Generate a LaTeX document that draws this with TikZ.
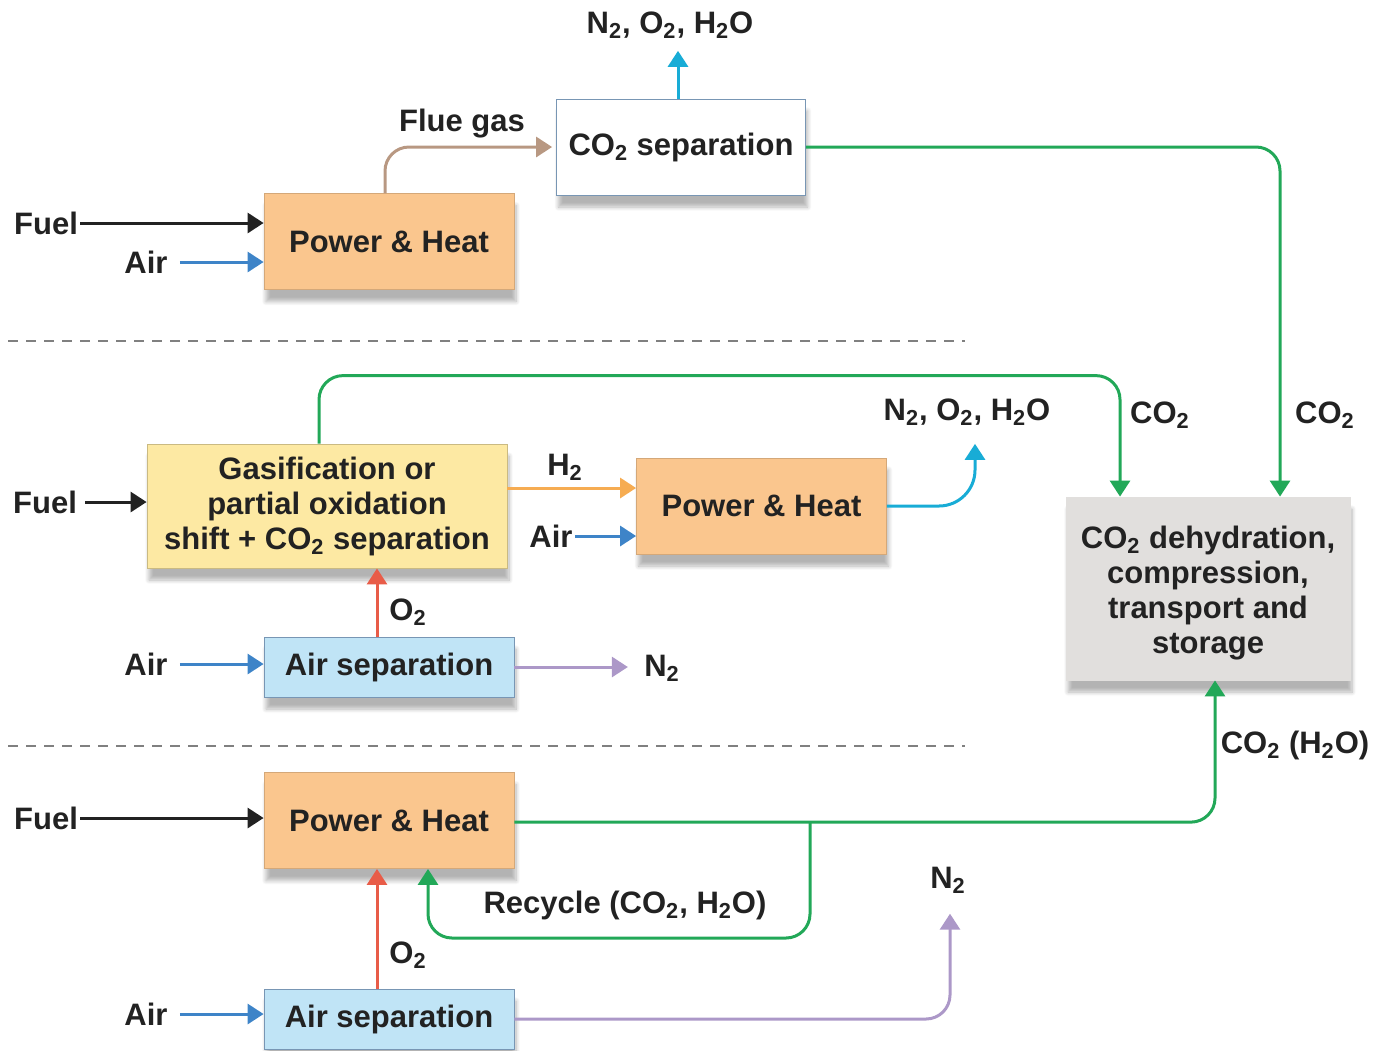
\documentclass[tikz,border=0pt]{standalone}
\usepackage{fontspec}
\setmainfont{Liberation Sans}
\usepackage{xcolor}
\usepackage{tikz}
\usetikzlibrary{positioning,arrows.meta,shadows.blur}
\definecolor{heatfill}{RGB}{250,198,142}
\definecolor{gasfill}{RGB}{253,233,163}
\definecolor{sepfill}{RGB}{192,228,246}
\definecolor{storefill}{RGB}{225,223,221}
\definecolor{sepdraw}{RGB}{120,150,180}
\definecolor{flowgreen}{RGB}{34,168,88}
\definecolor{flowcyan}{RGB}{24,172,214}
\definecolor{flowblue}{RGB}{62,132,200}
\definecolor{flowtan}{RGB}{184,152,130}
\definecolor{flowred}{RGB}{232,92,72}
\definecolor{flowpurple}{RGB}{172,152,200}
\definecolor{flowamber}{RGB}{246,172,82}
\definecolor{textgray}{RGB}{34,34,34}
\newcommand{\ctwo}{\textsubscript{2}}
\tikzset{
  unit/.style     = {shape=rectangle, align=center, inner sep=2pt,
                     font=\bfseries\fontsize{15.5}{17.5}\selectfont, text=textgray,
                     blur shadow={shadow xshift=1pt, shadow yshift=-6pt,
                                  shadow blur steps=8, shadow opacity=30}},
  heat/.style     = {unit, fill=heatfill, draw=heatfill!85!black,
                     minimum width=125pt, minimum height=48pt},
  gasif/.style    = {unit, fill=gasfill, draw=gasfill!80!black,
                     minimum width=180pt, minimum height=62pt},
  airsep/.style   = {unit, fill=sepfill, draw=sepdraw,
                     minimum width=125pt, minimum height=30pt},
  capture/.style  = {unit, fill=white, draw=sepdraw,
                     minimum width=124.5pt, minimum height=48pt},
  store/.style    = {unit, fill=storefill, draw=storefill,
                     minimum width=142pt, minimum height=91.5pt},
  tag/.style      = {font=\bfseries\fontsize{15.5}{17}\selectfont,
                     text=textgray, inner sep=1pt},
  flow/.style     = {line width=1.5pt, -{Triangle[length=8pt,width=10pt]}},
  fuel/.style     = {flow, draw=textgray},
  air/.style      = {flow, draw=flowblue, shorten <=5pt},
  co2/.style      = {flow, draw=flowgreen, rounded corners=12pt},
  exhaust/.style  = {flow, draw=flowcyan, rounded corners=18pt},
  nitrogen/.style = {flow, draw=flowpurple, rounded corners=12pt},
  oxygen/.style   = {flow, draw=flowred},
  divider/.style  = {draw=gray, line width=0.8pt, dash pattern=on 5pt off 4pt}
}
\begin{document}
\begin{tikzpicture}[x=0.5pt, y=-0.5pt]
  \useasboundingbox (0,0) rectangle (1384,1050);

  % post-combustion
  \node [capture] (sep)   at (681,147)   {CO\ctwo{} separation};
  \node [heat]    (heatA) at (389,241.5) {Power \& Heat};
  \node [tag]     (fuelA) at (46,223)    {Fuel};
  \node [tag]     (airA)  at (146,262)   {Air};
  \node [tag]     (exhA)  at (670,25)    {N\ctwo, O\ctwo, H\ctwo O};
  \node [tag]     (flue)  at (462,124)   {Flue gas};
  \draw [fuel] (fuelA.east) -- (fuelA -| heatA.west);
  \draw [air]  (airA.east)  -- (airA.east -| heatA.west);
  \draw [flow, draw=flowtan, rounded corners=12pt, shorten >=2pt]
        ([xshift=-2pt]heatA.north) |- (sep.west);
  \draw [flow, draw=flowcyan, shorten >=5pt]
        ([xshift=-1.5pt]sep.north) -- ([xshift=-1.5pt]sep.north |- exhA.south);

  \draw [divider] (8,341) -- (965,341);

  % pre-combustion
  \node [gasif]  (gasif) at (327,506)
        {Gasification or\\partial oxidation\\shift + CO\ctwo{} separation};
  \node [heat]   (heatB) at (761.5,506) {Power \& Heat};
  \node [airsep] (asepB) at (389,667)   {Air separation};
  \node [tag]    (fuelB) at (45,502)    {Fuel};
  \node [tag]    (h2)    at (565,467)   {H\ctwo};
  \node [tag]    (airM)  at (551,536)   {Air};
  \node [tag]    (airB)  at (146,664)   {Air};
  \node [tag]    (o2B)   at (408,612)   {O\ctwo};
  \node [tag]    (n2B)   at (662,668)   {N\ctwo};
  \node [tag]    (exhB)  at (967,412)   {N\ctwo, O\ctwo, H\ctwo O};
  \draw [fuel, shorten <=3pt] (fuelB.east) -- (fuelB.east -| gasif.west);
  \draw [flow, draw=flowamber]
        ([yshift=9pt]gasif.east) -- ([yshift=9pt]gasif.east -| heatB.west);
  \draw [air, shorten <=0pt] (airM.east) -- (airM.east -| heatB.west);
  \draw [air]  (airB.east)  -- (airB.east -| asepB.west);
  \draw [oxygen] ([xshift=-6pt]asepB.north) -- ([xshift=-6pt]asepB.north |- gasif.south);
  \draw [nitrogen, shorten >=7pt] (asepB.east) -- (asepB.east -| n2B.west);
  \draw [exhaust, shorten >=8pt] (heatB.east) -| ([xshift=4pt]exhB.south);

  % storage
  \node [store] (store) at (1208,588.5)
        {\rule{0pt}{16pt}CO\ctwo{} dehydration,\\compression,\\transport and\\storage};
  \node [tag] (co2A) at (1325,415)  {CO\ctwo};
  \node [tag] (co2B) at (1160,415)  {CO\ctwo};
  \node [tag] (co2C) at (1295,745)  {CO\ctwo{} (H\ctwo O)};
  \draw [co2] (sep.east) -| ([xshift=36pt]store.north);
  \draw [co2] ([xshift=-4pt]gasif.north) -- ++(0,-68) -| ([xshift=-44pt]store.north);

  \draw [divider] (8,746) -- (965,746);

  % oxy-fuel
  \node [heat]   (heatC) at (389,820.5) {Power \& Heat};
  \node [airsep] (asepC) at (389,1019)  {Air separation};
  \node [tag]    (fuelC) at (46,818)    {Fuel};
  \node [tag]    (airC)  at (146,1014)  {Air};
  \node [tag]    (o2C)   at (408,955)   {O\ctwo};
  \node [tag]    (n2C)   at (948,880)   {N\ctwo};
  \node [tag]    (recyc) at (625,905)   {Recycle (CO\ctwo, H\ctwo O)};
  \coordinate (split) at (810,822);
  \coordinate (rbot)  at (810,938);
  \draw [fuel] (fuelC.east) -- (fuelC -| heatC.west);
  \draw [air]  (airC.east)  -- (airC.east -| asepC.west);
  \draw [oxygen] ([xshift=-6pt]asepC.north) -- ([xshift=-6pt]heatC.south);
  \draw [co2] ([yshift=-0.8pt]heatC.east) -| ([xshift=3.5pt]store.south);
  \draw [co2] (split) -- (rbot) -| ([xshift=19.5pt]heatC.south);
  \draw [nitrogen, shorten >=9pt] (asepC.east) -| ([xshift=1pt]n2C.south);
\end{tikzpicture}
\end{document}
